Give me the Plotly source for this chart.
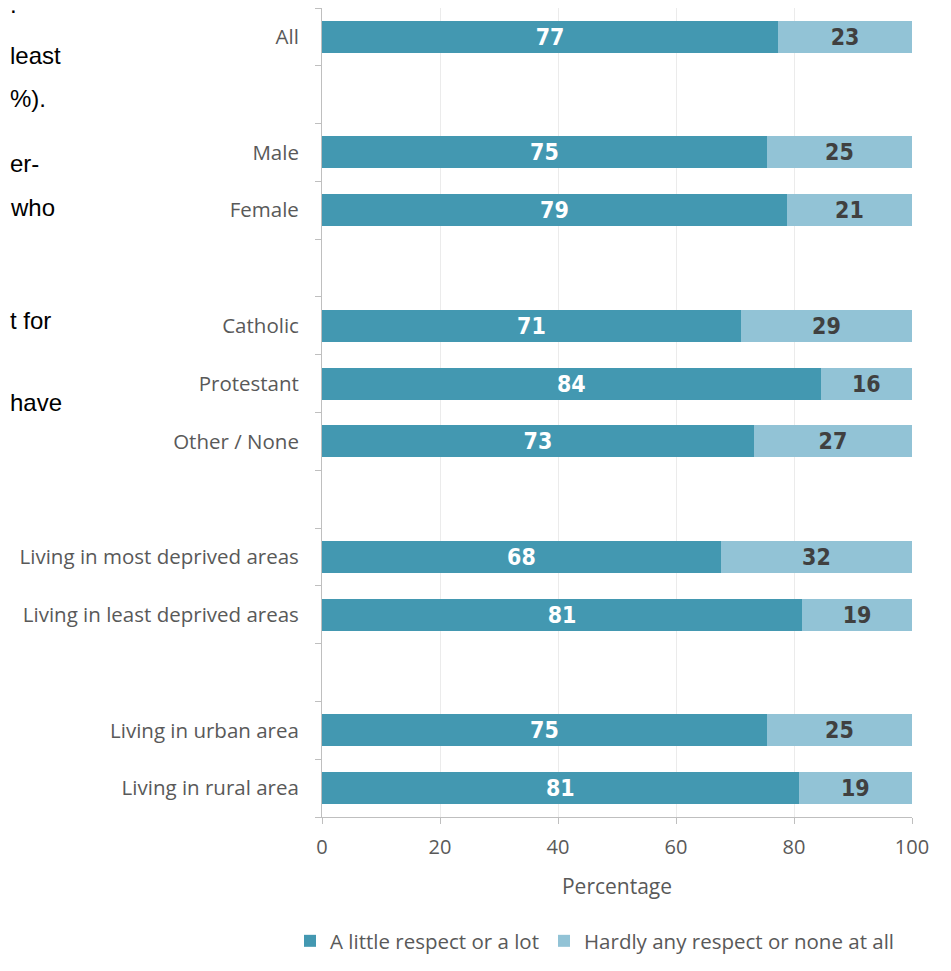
import plotly.graph_objects as go

categories = ["All", "Male", "Female", "Catholic", "Protestant", "Other / None",
              "Living in most deprived areas", "Living in least deprived areas",
              "Living in urban area", "Living in rural area"]
row_positions = [0, 2, 3, 5, 6, 7, 9, 10, 12, 13]
respect = [77.3, 75.4, 78.8, 71.0, 84.5, 73.2, 67.6, 81.4, 75.4, 80.8]
respect_labels = ["77", "75", "79", "71", "84", "73", "68", "81", "75", "81"]
no_respect = [100 - v for v in respect]
no_respect_labels = ["23", "25", "21", "29", "16", "27", "32", "19", "25", "19"]
x_ticks = [0, 20, 40, 60, 80, 100]
side_text = [".", "least", "%).", "er-", "who", "t for", "have"]
side_text_y = [4, 55, 98, 163, 207, 320, 402]   # screen pixel centres

# page body has an 8px margin: figure sized to fit the window
OFF = 8
FIG_W, FIG_H = 951 - 2 * OFF, 971 - 2 * OFF
L, T = 322 - OFF, 0
R = FIG_W - (912 - OFF)
B = FIG_H - (817 - OFF)
PW, PH = FIG_W - L - R, FIG_H - T - B

DARK = "#4398B1"
LIGHT = "#92C3D6"
FONT = "'Open Sans', 'Noto Sans', sans-serif"
LABEL_FONT = "'Liberation Sans Narrow', 'DejaVu Sans Condensed', Lato, sans-serif"
GREY = "#595959"

fig = go.Figure()
fig.add_trace(go.Bar(
    y=row_positions, x=respect, orientation="h", name="A little respect or a lot",
    marker=dict(color=DARK, line=dict(width=0)),
    text=respect_labels, textposition="inside", insidetextanchor="middle", textangle=0,
    textfont=dict(color="white", size=23, family=LABEL_FONT, weight="bold"),
    hoverinfo="skip",
))
fig.add_trace(go.Bar(
    y=row_positions, x=no_respect, orientation="h", name="Hardly any respect or none at all",
    marker=dict(color=LIGHT, line=dict(width=0)),
    text=no_respect_labels, textposition="inside", insidetextanchor="middle", textangle=0,
    textfont=dict(color="#404040", size=23, family=LABEL_FONT, weight="bold"),
    hoverinfo="skip",
))

annotations = []
for txt, py in zip(side_text, side_text_y):
    annotations.append(dict(
        text=txt, xref="paper", yref="paper",
        x=(0 - L) / PW, y=1 - (py - OFF - T) / PH,
        xanchor="left", yanchor="middle", showarrow=False,
        font=dict(family="'Liberation Sans', Arial, sans-serif", size=24, color="black"),
    ))

fig.update_layout(
    width=FIG_W, height=FIG_H,
    margin=dict(l=L, r=R, t=T, b=B),
    barmode="stack", bargap=0.447,
    plot_bgcolor="white", paper_bgcolor="white",
    font=dict(family=FONT, color=GREY, size=19),
    showlegend=True,
    legend=dict(orientation="h", x=(290 - OFF - L) / PW, xanchor="left",
                y=-(B - 2) / PH, yanchor="bottom",
                font=dict(size=20.5, color=GREY, family=FONT), traceorder="normal",
                itemwidth=30, tracegroupgap=0),
    annotations=annotations,
    xaxis=dict(
        range=[0, 100], tickvals=x_ticks, ticks="outside", ticklen=6,
        tickcolor="#bfbfbf", showline=True, linecolor="#bfbfbf", linewidth=1,
        showgrid=True, gridcolor="#ebebeb", gridwidth=1, zeroline=False,
        tickfont=dict(size=20, color=GREY, family=FONT),
        ticklabelstandoff=6,
        title=dict(text="Percentage", font=dict(size=21, color=GREY, family=FONT), standoff=20),
        fixedrange=True,
    ),
    yaxis=dict(
        range=[13.5, -0.5], tickvals=row_positions, ticktext=categories,
        ticks="", showline=True, linecolor="#bfbfbf", linewidth=1,
        showgrid=False, zeroline=False,
        tickfont=dict(size=20.5, color=GREY, family=FONT),
        ticklabelstandoff=18,
        minor=dict(tickvals=[i - 0.5 for i in range(15)], ticks="outside",
                   ticklen=6, tickcolor="#bfbfbf", showgrid=False),
        fixedrange=True,
    ),
)

fig.write_html("out.html")
